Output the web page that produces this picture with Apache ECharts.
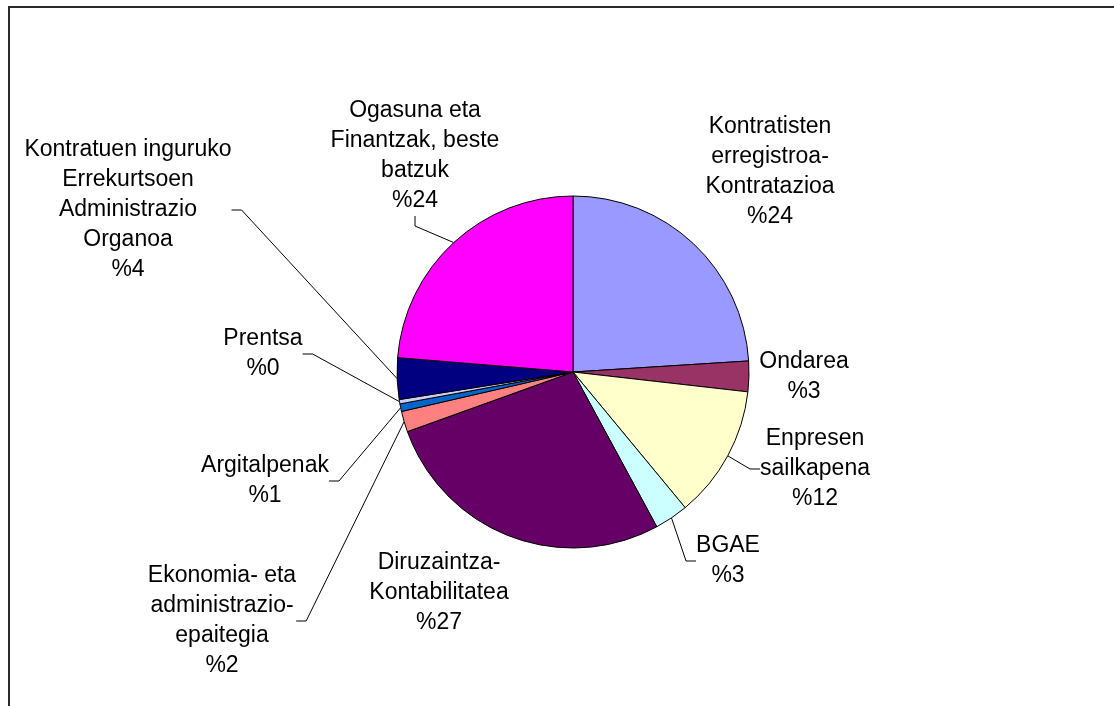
<!DOCTYPE html>
<html>
<head>
<meta charset="utf-8">
<script src="https://cdn.jsdelivr.net/npm/echarts@6/dist/echarts.min.js"></script>
<style>
html,body{margin:0;padding:0;background:#fff;}
#chart{width:1114px;height:706px;}
</style>
</head>
<body>
<div id="chart"></div>
<script>
// Categories (clockwise from 12 o'clock)
const categories = [
  'Kontratisten\nerregistroa-\nKontratazioa',
  'Ondarea',
  'Enpresen\nsailkapena',
  'BGAE',
  'Diruzaintza-\nKontabilitatea',
  'Ekonomia- eta\nadministrazio-\nepaitegia',
  'Argitalpenak',
  'Prentsa',
  'Kontratuen inguruko\nErrekurtsoen\nAdministrazio\nOrganoa',
  'Ogasuna eta\nFinantzak, beste\nbatzuk'
];
// Shares (percent)
const values = [24.0, 2.8, 12.2, 3.1, 27.4, 1.9, 0.7, 0.4, 3.8, 23.7];

// Styling / layout (kept apart from data)
const colors = ['#9999FF','#993366','#FFFFCC','#CCFFFF','#660066','#FF8080','#0066CC','#CCCCFF','#000080','#FF00FF'];
const labelPos = [
  [770,172],[804,377],[815,469],[728,561],[439,593],
  [222,621],[265,481],[263,354],[128,210],[415,156]
];
const showLeader = [false,false,true,true,false,true,true,true,true,true];

const chart = echarts.init(document.getElementById('chart'), null, {renderer:'canvas'});
const data = categories.map((c,i)=>({
  name: c,
  value: values[i],
  itemStyle: {color: colors[i]},
  labelLine: {show: showLeader[i]}
}));

chart.setOption({
  animation: false,
  backgroundColor: '#ffffff',
  graphic: [{
    type: 'rect',
    shape: {x: 9, y: 7, width: 1300, height: 900},
    style: {fill: 'none', stroke: '#2a2a2a', lineWidth: 2},
    silent: true, z: 0
  }],
  series: [{
    type: 'pie',
    center: [573, 372],
    radius: [0, 176],
    startAngle: 90,
    clockwise: true,
    avoidLabelOverlap: false,
    itemStyle: {borderColor: '#000', borderWidth: 1},
    label: {
      show: true,
      position: 'outside',
      fontFamily: 'Liberation Sans, Arial, sans-serif',
      fontSize: 23,
      lineHeight: 30,
      color: '#000',
      align: 'center',
      formatter: p => p.name + '\n%' + Math.round(p.value)
    },
    labelLine: {
      length: 15,
      length2: 10,
      minTurnAngle: 0,
      lineStyle: {color: '#000', width: 1}
    },
    labelLayout: function (p) {
      const pos = labelPos[p.dataIndex];
      return {x: pos[0], y: pos[1], align: 'center', verticalAlign: 'middle'};
    },
    emphasis: {disabled: true},
    data: data
  }]
});
</script>
</body>
</html>
